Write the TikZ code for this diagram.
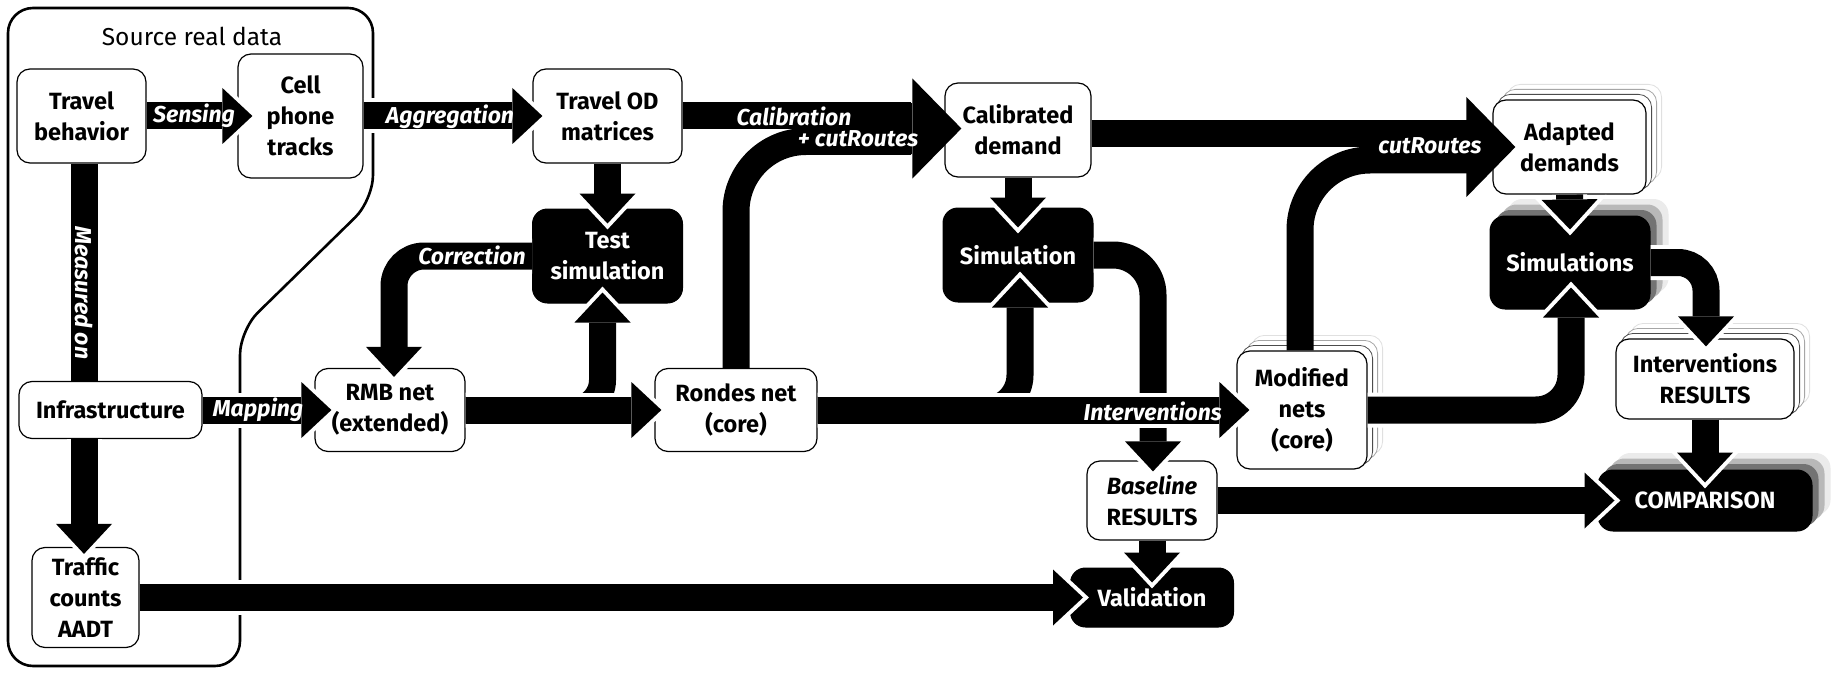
\documentclass[tikz,border=0pt]{standalone}
\usepackage{fontspec}
\setmainfont{Fira Sans}
\usetikzlibrary{arrows.meta,calc,backgrounds}
\newcommand\wstack[1]{\begin{scope}[on background layer]
  \foreach \k/\c in {3/black!12,2/black!35,1/black!70}{\draw[draw=\c, fill=white, line width=0.8pt, rounded corners=13pt] ($(#1.south west)+(5*\k,-5*\k)$) rectangle ($(#1.north east)+(5*\k,-5*\k)$);}
\end{scope}}
\newcommand\gstack[1]{\begin{scope}[on background layer]
  \foreach \k/\c in {3/black!8,2/black!28,1/black!55}{\fill[\c, rounded corners=15pt] ($(#1.south west)+(6*\k,-5.5*\k)$) rectangle ($(#1.north east)+(6*\k,-5.5*\k)$);}
\end{scope}}
\begin{document}
\begin{tikzpicture}[x=1pt,y=-1pt,
  every node/.style={inner sep=0pt},
  wbox/.style={draw=black, line width=1.2pt, fill=white, rounded corners=13pt, align=center, font=\fontsize{23.5}{31}\selectfont\bfseries},
  bbox/.style={draw=black, fill=black, text=white, line width=1pt, rounded corners=15pt, align=center, font=\fontsize{23.5}{31}\selectfont\bfseries},
  sz/.style 2 args={minimum width=#1pt, minimum height=#2pt},
  lbl/.style={text=white, font=\fontsize{23}{25}\selectfont\bfseries\itshape},
  arr/.style={draw=black, line width=27pt, -{Triangle[length=30pt,width=56pt,line width=0pt]},
    preaction={draw=white, line width=35pt, -{Triangle[length=39.9pt,width=74.4pt,line width=0pt]}, shorten >=-5.9pt}},
  bar/.style={draw=black, line width=27pt},
  bighead/.style={draw=black, line width=51pt, -{Triangle[length=49pt,width=100pt,line width=0pt]}},
]
\begin{scope}[on background layer]
  \fill[white] (0,0) rectangle (1837,674);
\end{scope}
\useasboundingbox (0,0) rectangle (1837,674);

% outer region
\draw[line width=2.6pt, rounded corners=25pt] (8,8) -- (373,8) -- (373,200) -- (240,330) -- (240,666) -- (8,666) -- cycle;
\node[font=\fontsize{24.5}{26}\selectfont] (src) at (192,36) {Source real data};

% nodes
\node[wbox, sz={129}{94}] (trav) at (81.5,116) {Travel\\behavior};
\node[wbox, sz={125}{124}] (cell) at (300.5,116) {Cell\\phone\\tracks};
\node[wbox, sz={149}{94}] (od) at (607.5,116) {Travel OD\\matrices};
\node[wbox, sz={146}{94}] (cal) at (1018,130) {Calibrated\\demand};
\node[wbox, sz={153}{94}] (adapt) at (1569.5,147) {Adapted\\demands};
\wstack{adapt}
\node[bbox, sz={150}{94}] (tsim) at (607.5,256) {Test\\simulation};
\node[bbox, sz={150}{94}] (sim) at (1018,255) {Simulation};
\node[bbox, sz={160}{93}] (sims) at (1570,262.5) {Simulations};
\gstack{sims}
\node[wbox, sz={183}{57}] (infra) at (110.5,410) {Infrastructure};
\node[wbox, sz={150}{83}] (rmb) at (390,410) {RMB net\\(extended)};
\node[wbox, sz={162}{83}] (rondes) at (736,410) {Rondes net\\(core)};
\node[wbox, sz={130}{118}] (mod) at (1302,410) {Modified\\nets\\(core)};
\wstack{mod}
\node[wbox, sz={178}{80}] (intres) at (1705,379) {Interventions\\RESULTS};
\wstack{intres}
\node[wbox, sz={130}{79}] (base) at (1152,500.5) {{\itshape Baseline}\\RESULTS};
\node[bbox, sz={214}{61}] (comp) at (1705,500.5) {COMPARISON};
\gstack{comp}
\node[wbox, sz={107}{100}] (traffic) at (85.5,597.5) {Traffic\\counts\\AADT};
\node[bbox, sz={163}{59}] (valid) at (1152,597.5) {Validation};

\coordinate (mx) at (84,0);
\coordinate (h1) at (911,128.5);
\coordinate (h2) at (1467,147);

% connectors
\draw[arr] (trav.east) -- ($(cell.west)+(15,0)$);
\draw[arr] (cell.east) -- ($(od.west)+(10,0)$);
\draw[bar] (trav.south -| mx) -- (infra.north -| mx);
\draw[arr] (infra.south -| mx) -- ($(traffic.north -| mx)+(0,7)$);
\draw[arr] (infra.east) -- ($(rmb.west)+(17,0)$);
\draw[arr, rounded corners=30pt] (rmb.east) -| ($(tsim.south)+(-5,-11)$);
\draw[arr] (rmb.east) -- ($(rondes.west)+(7,0)$);
\draw[arr, rounded corners=30pt] (tsim.west) -| ($(rmb.north)+(4,9)$);
\draw[arr] (od.south) -- ($(tsim.north)+(0,15)$);
\draw[bar] (od.east) -- (od.east -| h1);
\draw[bar, rounded corners=70pt] (rondes.north) |- ($(h1)+(0,13)$);
\draw[bighead] ($(h1)+(-4,0)$) -- ($(cal.west)+(17,-1.5)$);
\draw[arr] (cal.south) -- ($(sim.north)+(0,20)$);
\draw[arr, rounded corners=35pt] (rondes.east) -| ($(sim.south)+(2,-25)$);
\draw[arr, rounded corners=40pt] (sim.east) -| ($(base.north)+(1,11)$);
\draw[arr] (rondes.east) -- ($(mod.west)+(13,0)$);
\draw[arr] (base.south) -- ($(valid.north)+(0,15)$);
\draw[arr] (traffic.east) -- ($(valid.west)+(13,0)$);
\draw[arr] (base.east) -- ($(comp.west)+(17,0)$);
\draw[bar] ($(cal.east)+(0,4)$) -- ($(h2)+(0,-13)$);
\draw[bar, rounded corners=70pt] ($(mod.north)+(-2,0)$) |- ($(h2)+(0,13)$);
\draw[bighead] ($(h2)+(-4,0)$) -- ($(adapt.west)+(23,0)$);
\draw[arr] (adapt.south) -- ($(sims.north)+(0,14)$);
\draw[arr, rounded corners=35pt] (mod.east) -| ($(sims.south)+(1,-22)$);
\draw[arr, rounded corners=28pt] (sims.east) -| ($(intres.north)+(1,8)$);
\draw[arr] (intres.south) -- ($(comp.north)+(0,13)$);

% labels
\node[lbl] (lsens) at (194,116) {Sensing};
\node[lbl] (laggr) at (450,117) {Aggregation};
\node[lbl, rotate=-90] (lmeas) at (84,293) {Measured on};
\node[lbl] (lmap) at (258,410) {Mapping};
\node[lbl] (lcorr) at (472,255) {Correction};
\node[lbl] (lcal) at (794,116) {Calibration};
\node[lbl] (lcut1) at (858,139) {+ cutRoutes};
\node[lbl] (lcut2) at (1430,146) {cutRoutes};
\node[lbl, anchor=east] (lint) at (1222,411) {Interventions};
\end{tikzpicture}
\end{document}
